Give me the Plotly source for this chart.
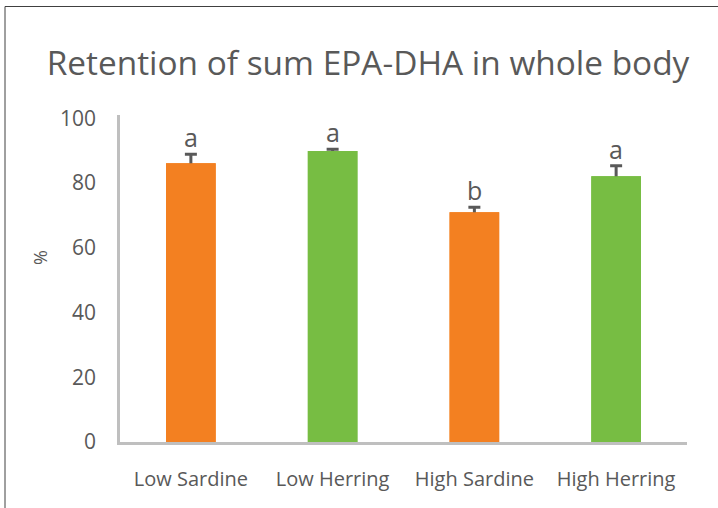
import plotly.graph_objects as go

categories = ["Low Sardine", "Low Herring", "High Sardine", "High Herring"]
values = [86.1, 89.9, 71.0, 82.1]
errors = [2.8, 0.5, 1.5, 3.2]
letters = ["a", "a", "b", "a"]
colors = ["#F38021", "#77BD43", "#F38021", "#77BD43"]

W, H = 718, 508
L, R, T, B = 120, 31, 115, 66
pw, ph = W - L - R, H - T - B

def px2paper_x(px):
    return (px - L) / pw

def px2paper_y(py):
    return (H - B - py) / ph

txt = "#595959"
font_family = "Open Sans, Lato, sans-serif"

fig = go.Figure()
# bars carrying the (upper) error bars; lower caps hidden under the next trace
fig.add_trace(go.Bar(
    x=categories, y=values,
    marker=dict(color=colors, line=dict(width=0)),
    width=0.35,
    error_y=dict(type="data", symmetric=False, array=errors,
                 arrayminus=[6] * len(errors), color="#595959",
                 thickness=3, width=6),
    hoverinfo="skip",
))
# same bars drawn on top to hide the lower part of the error bars
fig.add_trace(go.Bar(
    x=categories, y=values,
    marker=dict(color=colors, line=dict(width=0)),
    width=0.35,
))

for c, v, e, l in zip(categories, values, errors, letters):
    fig.add_annotation(x=c, y=v + e, text=l, showarrow=False,
                       yanchor="bottom", yshift=-2,
                       font=dict(family=font_family, size=25, color=txt))

# y-axis title "%"
fig.add_annotation(xref="paper", yref="paper",
                   x=px2paper_x(40), y=px2paper_y(258),
                   text="%", textangle=-90, showarrow=False,
                   xanchor="center", yanchor="middle",
                   font=dict(family=font_family, size=18, color=txt))

fig.add_shape(type="rect", xref="paper", yref="paper",
              x0=px2paper_x(5), x1=px2paper_x(725),
              y0=px2paper_y(515), y1=px2paper_y(6.5),
              line=dict(color="#404040", width=1), layer="below")

fig.update_layout(
    width=W, height=H,
    margin=dict(l=L, r=R, t=T, b=B),
    paper_bgcolor="white", plot_bgcolor="white",
    showlegend=False,
    barmode="overlay",
    title=dict(text="Retention of sum EPA-DHA in whole body",
               x=368 / W, xref="container", xanchor="center",
               y=1 - 63 / H, yref="container", yanchor="middle",
               font=dict(family=font_family, size=33.4, color=txt)),
    font=dict(family=font_family, color=txt),
)
fig.update_xaxes(showline=True, linecolor="#BFBFBF", linewidth=2.5,
                 showgrid=False, ticks="", ticklabelstandoff=17,
                 tickfont=dict(size=20, color=txt))
fig.update_yaxes(range=[0, 101], showline=True, linecolor="#BFBFBF",
                 linewidth=2.5, showgrid=False, zeroline=False,
                 tickvals=[0, 20, 40, 60, 80, 100], ticks="",
                 ticklabelstandoff=17,
                 tickfont=dict(size=21, color=txt))

fig.write_html("out.html", config={"displayModeBar": False},
               post_script="document.body.style.margin='0';document.body.style.overflow='hidden';")
